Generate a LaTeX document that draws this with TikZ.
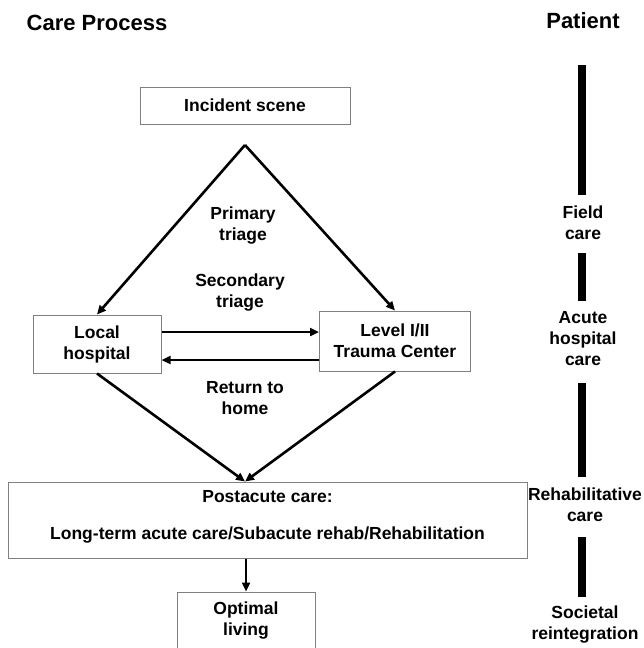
\documentclass[tikz,border=0pt]{standalone}
\usepackage{fontspec}
\setmainfont{Liberation Sans}
\usetikzlibrary{arrows.meta, positioning, calc}
\definecolor{cgrey}{HTML}{808080}
\definecolor{cblack}{HTML}{000000}
\tikzset{
  every picture/.style={font=\bfseries},
  box/.style={draw=cgrey, line width=1pt, align=center, inner sep=0pt},
  arrow/.style={-{Triangle[length=9pt, width=8pt]}, draw=cblack, line width=2.6pt},
  bar/.style={draw=cblack, line width=8pt},
  title/.style={font=\fontsize{22}{26}\selectfont\bfseries},
  lbl/.style={align=center, inner sep=0pt, font=\fontsize{17.5}{21}\selectfont\bfseries},
}

\begin{document}
\begin{tikzpicture}[x=1pt, y=-1pt, every node/.append style={font=\fontsize{17.5}{21}\selectfont\bfseries}]
  \useasboundingbox (0,0) rectangle (644,648);
  \node[title] (care) at (97,23) {Care Process};
  \node[title] (patient) at (583,21) {Patient};
  \node[box, minimum width=210pt, minimum height=37pt] (scene) at (245,105.5) {Incident scene};
  \node[box, minimum width=128pt, minimum height=58pt] (local) at (97,344) {Local\\hospital};
  \node[box, minimum width=151pt, minimum height=60pt] (trauma) at (395,341) {Level I/II\\Trauma Center};
  \node[box, minimum width=519pt, minimum height=76pt, text depth=10pt] (post) at (267.5,520) {Postacute care:\\[16pt]Long-term acute care/Subacute rehab/Rehabilitation};
  \node[box, minimum width=138pt, minimum height=58pt] (opt) at (246,621) {Optimal\\living};
  \node[lbl] (primary) at (243,226) {Primary\\triage};
  \node[lbl] (secondary) at (240,293) {Secondary\\triage};
  \node[lbl] (return) at (245,398) {Return to\\home};
  \node[lbl] (field) at (583,223) {Field\\care};
  \node[lbl] (acute) at (583,339) {Acute\\hospital\\care};
  \node[lbl] (rehab) at (585,505) {Rehabilitative\\care};
  \node[lbl] (societal) at (585,625) {Societal\\reintegration};
  \coordinate (apex) at (245,145);
  \coordinate (merge) at (apex |- post.north);
  \coordinate (hi) at ([yshift=12pt]local.east);
  \coordinate (lo) at ([yshift=-16pt]local.east);
  \draw[arrow] (apex) -- (local.north);
  \draw[arrow] (apex) -- (trauma.north);
  \draw[arrow] (hi) -- (hi -| trauma.west);
  \draw[arrow] (lo -| trauma.west) -- (lo);
  \draw[arrow] (local.south) -- (merge);
  \draw[arrow] (trauma.south) -- (merge);
  \draw[arrow] (post.south -| opt.north) -- (opt.north);
  \foreach \ya/\yb in {65/195, 253/301, 383/477, 537/597}
    \draw[bar] (582,\ya) -- (582,\yb);
\end{tikzpicture}
\end{document}
